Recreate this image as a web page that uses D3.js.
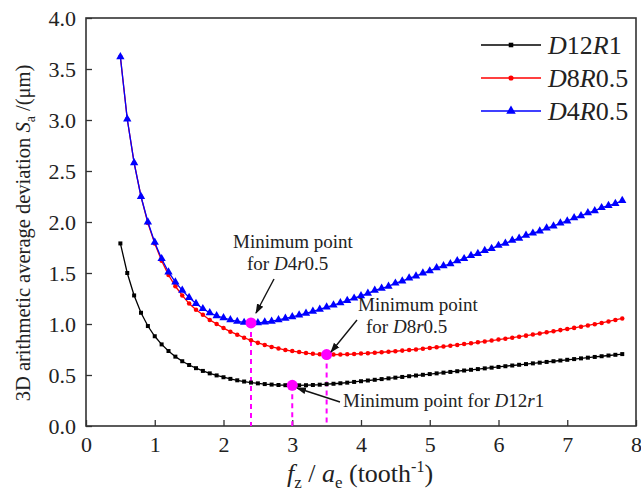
<!DOCTYPE html>
<html>
<head>
<meta charset="utf-8">
<script src="https://cdn.jsdelivr.net/npm/d3@7/dist/d3.min.js"></script>
<style>
  body { margin: 0; background: #fff; }
  svg, svg text { font-family: "Liberation Serif", "Times New Roman", serif; }
</style>
</head>
<body>
<svg width="641" height="496"></svg>
<script>
// feed per tooth over radial depth
const fz = [0.5,0.6,0.7,0.8,0.9,1.0,1.1,1.2,1.3,1.4,1.5,1.6,1.7,1.8,1.9,2.0,2.1,2.2,2.3,2.4,
  2.5,2.6,2.7,2.8,2.9,3.0,3.1,3.2,3.3,3.4,3.5,3.6,3.7,3.8,3.9,4.0,4.1,4.2,4.3,4.4,4.5,4.6,4.7,
  4.8,4.9,5.0,5.1,5.2,5.3,5.4,5.5,5.6,5.7,5.8,5.9,6.0,6.1,6.2,6.3,6.4,6.5,6.6,6.7,6.8,6.9,7.0,
  7.1,7.2,7.3,7.4,7.5,7.6,7.7,7.8];

const saD12R1 = [1.79,1.50,1.28,1.11,0.98,0.88,0.80,0.735,0.68,0.635,0.598,0.567,0.54,0.516,0.496,
  0.478,0.462,0.448,0.436,0.426,0.418,0.411,0.406,0.402,0.40,0.399,0.399,0.40,0.402,0.405,0.41,
  0.414,0.419,0.425,0.432,0.439,0.446,0.453,0.46,0.467,0.474,0.481,0.488,0.495,0.502,0.509,0.516,
  0.523,0.53,0.537,0.544,0.551,0.558,0.565,0.572,0.579,0.586,0.593,0.60,0.607,0.614,0.621,0.628,
  0.635,0.642,0.649,0.656,0.663,0.67,0.677,0.684,0.691,0.698,0.705];

const saD8R05 = [3.62,3.01,2.58,2.25,1.99,1.79,1.62,1.48,1.37,1.28,1.20,1.14,1.09,1.04,1.00,0.96,
  0.925,0.895,0.865,0.84,0.815,0.795,0.775,0.76,0.745,0.735,0.725,0.715,0.708,0.703,0.70,0.70,
  0.701,0.703,0.706,0.71,0.714,0.718,0.723,0.728,0.733,0.739,0.745,0.751,0.758,0.765,0.772,0.779,
  0.787,0.795,0.803,0.811,0.82,0.829,0.838,0.847,0.856,0.866,0.876,0.886,0.896,0.907,0.918,0.929,
  0.94,0.951,0.962,0.974,0.986,0.998,1.01,1.025,1.04,1.055];

const saD4R05 = [3.62,3.01,2.58,2.25,2.00,1.80,1.64,1.51,1.41,1.33,1.26,1.20,1.15,1.11,1.08,1.06,
  1.04,1.025,1.015,1.01,1.012,1.018,1.027,1.04,1.055,1.07,1.087,1.105,1.124,1.144,1.165,1.186,
  1.208,1.23,1.253,1.276,1.30,1.33,1.35,1.37,1.40,1.42,1.45,1.47,1.50,1.52,1.55,1.57,1.59,1.62,
  1.64,1.67,1.69,1.72,1.74,1.77,1.79,1.82,1.84,1.87,1.89,1.91,1.94,1.96,1.99,2.01,2.04,2.06,2.09,
  2.11,2.14,2.16,2.18,2.21];

const seriesNames = ["D12R1", "D8R0.5", "D4R0.5"];
const seriesColors = ["#000000", "#ff0000", "#0000ff"];
const xTicks = [0,1,2,3,4,5,6,7,8];
const yTicks = [0,0.5,1,1.5,2,2.5,3,3.5,4];

// minimum points
const minX = [2.4, 3.5, 3.0];
const minY = [1.01, 0.70, 0.399];

const svg = d3.select('svg');
const mLeft = 86, mRight = 636, mTop = 18, mBottom = 426;

const x = d3.scaleLinear().domain([0, 8]).range([mLeft, mRight]);
const y = d3.scaleLinear().domain([0, 4]).range([mBottom, mTop]);

const series = [saD12R1, saD8R05, saD4R05].map((vals, i) => ({
  name: seriesNames[i],
  color: seriesColors[i],
  pts: vals.map((v, j) => [fz[j], v])
}));

// axes, ticks inside
svg.append('g')
  .attr('transform', `translate(0,${mBottom})`)
  .call(d3.axisBottom(x).tickValues(xTicks).tickFormat(d3.format('d')).tickSizeInner(-6).tickSizeOuter(0).tickPadding(10))
  .call(g => g.select('.domain').remove())
  .call(g => g.attr('font-family', null))
  .call(g => g.selectAll('line').attr('stroke', '#333').attr('stroke-width', 1.3))
  .call(g => g.selectAll('text').attr('font-size', 22).attr('fill', '#222'));

svg.append('g')
  .attr('transform', `translate(${mLeft},0)`)
  .call(d3.axisLeft(y).tickValues(yTicks).tickFormat(d3.format('.1f')).tickSizeInner(-6).tickSizeOuter(0).tickPadding(10))
  .call(g => g.select('.domain').remove())
  .call(g => g.attr('font-family', null))
  .call(g => g.selectAll('line').attr('stroke', '#333').attr('stroke-width', 1.3))
  .call(g => g.selectAll('text').attr('font-size', 22).attr('fill', '#222'));

// frame
svg.append('rect')
  .attr('x', mLeft).attr('y', mTop)
  .attr('width', mRight - mLeft).attr('height', mBottom - mTop)
  .attr('fill', 'none').attr('stroke', '#333').attr('stroke-width', 1.6);

// dashed drop lines
svg.selectAll('line.drop')
  .data(minX)
  .enter().append('line')
  .attr('class', 'drop')
  .attr('x1', d => x(d)).attr('x2', d => x(d))
  .attr('y1', (d, i) => y(minY[i])).attr('y2', mBottom)
  .attr('stroke', '#ff00ff').attr('stroke-width', 2).attr('stroke-dasharray', '5,4');

const line = d3.line().x(d => x(d[0])).y(d => y(d[1]));
const symTypes = [d3.symbolSquare, d3.symbolCircle, d3.symbolTriangle];
const symSizes = [16, 16, 30];

series.forEach((s, i) => {
  svg.append('path')
    .datum(s.pts)
    .attr('d', line)
    .attr('fill', 'none')
    .attr('stroke', s.color)
    .attr('stroke-width', 1.3);
  svg.append('g').selectAll('path')
    .data(s.pts)
    .enter().append('path')
    .attr('transform', d => `translate(${x(d[0])},${y(d[1])})`)
    .attr('d', d3.symbol().type(symTypes[i]).size(symSizes[i]))
    .attr('fill', s.color);
});

// minimum points
svg.selectAll('circle.min')
  .data(minX)
  .enter().append('circle')
  .attr('class', 'min')
  .attr('cx', d => x(d))
  .attr('cy', (d, i) => y(minY[i]))
  .attr('r', 5.5)
  .attr('fill', '#ff00ff');

// arrows
const defs = svg.append('defs');
defs.append('marker')
  .attr('id', 'arr')
  .attr('viewBox', '0 0 10 10')
  .attr('refX', 9).attr('refY', 5)
  .attr('markerWidth', 10).attr('markerHeight', 10)
  .attr('orient', 'auto')
  .attr('markerUnits', 'userSpaceOnUse')
  .append('path').attr('d', 'M0,1.5 L10,5 L0,8.5 z').attr('fill', '#111');

const arrows = [
  [274, 279, 256, 313],
  [357, 320, 331, 352],
  [340, 402, 297, 388]
];
svg.selectAll('line.arrow')
  .data(arrows)
  .enter().append('line')
  .attr('class', 'arrow')
  .attr('x1', d => d[0]).attr('y1', d => d[1])
  .attr('x2', d => d[2]).attr('y2', d => d[3])
  .attr('stroke', '#111').attr('stroke-width', 1.4)
  .attr('marker-end', 'url(#arr)');

function annot(tx, ty, parts) {
  const t = svg.append('text')
    .attr('x', tx).attr('y', ty)
    .attr('font-size', 19)
    .attr('fill', '#222');
  parts.forEach(p => t.append('tspan').attr('font-style', p[1] ? 'italic' : 'normal').text(p[0]));
  return t;
}
annot(233, 248, [['Minimum point', false]]);
annot(247, 270, [['for ', false], ['D', true], ['4', false], ['r', true], ['0.5', false]]);
annot(358, 311, [['Minimum point', false]]);
annot(366, 333, [['for ', false], ['D', true], ['8', false], ['r', true], ['0.5', false]]);
annot(343, 407, [['Minimum point for ', false], ['D', true], ['12', false], ['r', true], ['1', false]]);

// legend
const legY = [45, 78, 111];
const legParts = [
  [['D', true], ['12', false], ['R', true], ['1', false]],
  [['D', true], ['8', false], ['R', true], ['0.5', false]],
  [['D', true], ['4', false], ['R', true], ['0.5', false]]
];
series.forEach((s, i) => {
  const g = svg.append('g').attr('transform', `translate(0,${legY[i]})`);
  g.append('line').attr('x1', 481).attr('x2', 541).attr('y1', 0).attr('y2', 0)
    .attr('stroke', s.color).attr('stroke-width', 1.3);
  g.append('path').attr('transform', 'translate(511,0)')
    .attr('d', d3.symbol().type(symTypes[i]).size(symSizes[i] * 1.3))
    .attr('fill', s.color);
  const t = g.append('text').attr('x', 548).attr('y', 9).attr('font-size', 26).attr('fill', '#222');
  legParts[i].forEach(p => t.append('tspan').attr('font-style', p[1] ? 'italic' : 'normal').text(p[0]));
});

// axis titles
const xt = svg.append('text')
  .attr('x', 360).attr('y', 482)
  .attr('text-anchor', 'middle')
  .attr('font-size', 26).attr('fill', '#222');
xt.append('tspan').attr('font-style', 'italic').text('f');
xt.append('tspan').attr('font-size', 17).attr('dy', 6).text('z');
xt.append('tspan').attr('dy', -6).text(' / ');
xt.append('tspan').attr('font-style', 'italic').text('a');
xt.append('tspan').attr('font-size', 17).attr('dy', 6).text('e');
xt.append('tspan').attr('dy', -6).text(' (tooth');
xt.append('tspan').attr('font-size', 16).attr('dy', -10).text('-1');
xt.append('tspan').attr('dy', 10).text(')');

const yt = svg.append('text')
  .attr('transform', 'translate(30,233) rotate(-90)')
  .attr('text-anchor', 'middle')
  .attr('font-size', 20.5).attr('fill', '#222');
yt.append('tspan').text('3D arithmetic average deviation ');
yt.append('tspan').attr('font-style', 'italic').text('S');
yt.append('tspan').attr('font-size', 14).attr('dy', 5).text('a');
yt.append('tspan').attr('dy', -5).text(' /(μm)');
</script>
</body>
</html>
